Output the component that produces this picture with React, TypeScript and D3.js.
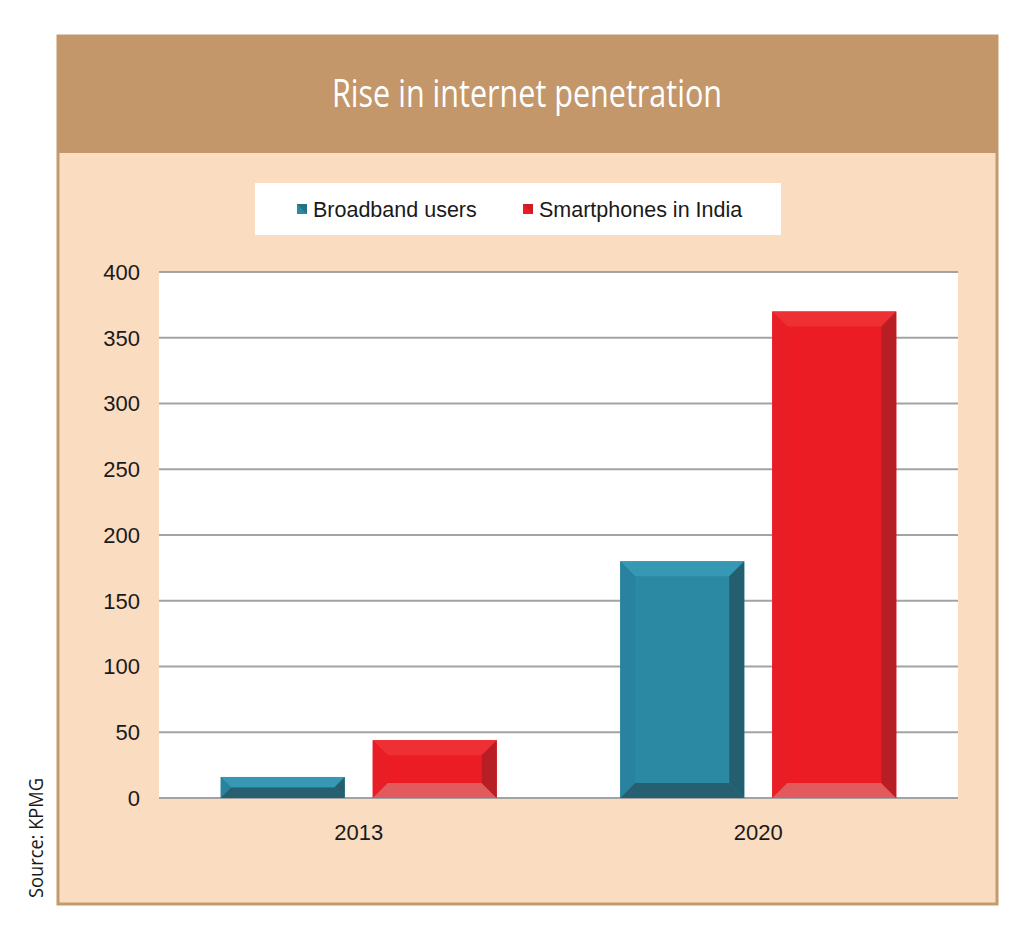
import React from "react";
import * as d3 from "d3";

const categories = ["2013", "2020"];
const seriesNames = ["Broadband users", "Smartphones in India"];
const broadband = [16, 180];
const smartphones = [44, 370];
const yTicks = [0, 50, 100, 150, 200, 250, 300, 350, 400];

const W = 1024;
const H = 932;

const palettes = [
  { main: "#2b89a3", top: "#3798b3", right: "#245f70", bottom: "#265f70", left: "#2882a0" },
  { main: "#ec1c24", top: "#ee3034", right: "#b81f25", bottom: "#e35a5c", left: "#e91d25" },
];

function Bar({ x, y, w, h, pal }: { x: number; y: number; w: number; h: number; pal: any }) {
  const b = Math.min(15, h / 2, w / 2);
  const pts = (arr: number[][]) => arr.map((p) => p.join(",")).join(" ");
  return (
    <g>
      <rect x={x} y={y} width={w} height={h} fill={pal.main} />
      <polygon points={pts([[x, y], [x + w, y], [x + w - b, y + b], [x + b, y + b]])} fill={pal.top} />
      <polygon points={pts([[x, y], [x, y + h], [x + b, y + h - b], [x + b, y + b]])} fill={pal.left} />
      <polygon points={pts([[x, y + h], [x + w, y + h], [x + w - b, y + h - b], [x + b, y + h - b]])} fill={pal.bottom} />
      <polygon points={pts([[x + w, y], [x + w, y + h], [x + w - b, y + h - b], [x + w - b, y + b]])} fill={pal.right} />
    </g>
  );
}

export default function App() {
  const plot = { left: 159, right: 958, top: 272, bottom: 798 };
  const y = d3.scaleLinear().domain([0, 400]).range([plot.bottom, plot.top]);
  const x0 = d3.scaleBand<string>().domain(categories).range([plot.left, plot.right]).padding(0);
  const x1 = d3
    .scaleBand<string>()
    .domain(seriesNames)
    .range([0, x0.bandwidth()])
    .paddingInner(0.184)
    .paddingOuter(0.406);
  const values = [broadband, smartphones];
  const font = "Arial, 'Liberation Sans', sans-serif";

  return (
    <svg width={W} height={H} style={{ position: "absolute", left: 0, top: 0, display: "block" }}>
      <rect x={0} y={0} width={W} height={H} fill="#ffffff" />
      {/* frame */}
      <rect x={58} y={36} width={939} height={868} fill="#fadcc1" stroke="#c49a6c" strokeWidth={3} />
      <rect x={57} y={35} width={941} height={118} fill="#c3976a" />
      <text
        x={527}
        y={107}
        textAnchor="middle"
        fill="#ffffff"
        fontFamily="'Open Sans', sans-serif"
        fontSize={38}
        textLength={390}
        lengthAdjust="spacingAndGlyphs"
      >
        Rise in internet penetration
      </text>

      {/* legend */}
      <rect x={255} y={183} width={526} height={52} fill="#ffffff" />
      {seriesNames.map((s, i) => {
        const lx = i === 0 ? 297 : 523;
        return (
          <g key={s}>
            <rect x={lx} y={204} width={10} height={10} fill={palettes[i].main} />
            <polygon points={`${lx},204 ${lx + 10},204 ${lx + 10},214`} fill={palettes[i].right} opacity={0.6} />
            <text x={lx + 16} y={217} fontFamily={font} fontSize={21.5} fill="#1a1a1a">
              {s}
            </text>
          </g>
        );
      })}

      {/* plot area */}
      <rect x={plot.left} y={plot.top} width={plot.right - plot.left} height={plot.bottom - plot.top} fill="#ffffff" />
      {yTicks.map((t) => (
        <g key={t}>
          <line x1={plot.left} x2={plot.right} y1={y(t)} y2={y(t)} stroke="#a3a3a3" strokeWidth={2} />
          <text
            x={140}
            y={y(t)}
            dy="0.36em"
            textAnchor="end"
            fontFamily={font}
            fontSize={22}
            fill="#1a1a1a"
          >
            {t}
          </text>
        </g>
      ))}

      {categories.map((c, ci) => (
        <g key={c}>
          {seriesNames.map((s, si) => {
            const v = values[si][ci];
            const bx = (x0(c) as number) + (x1(s) as number);
            const by = y(v);
            return <Bar key={s} x={bx} y={by} w={x1.bandwidth()} h={y(0) - by} pal={palettes[si]} />;
          })}
          <text
            x={(x0(c) as number) + x0.bandwidth() / 2}
            y={840}
            textAnchor="middle"
            fontFamily={font}
            fontSize={22}
            fill="#1a1a1a"
          >
            {c}
          </text>
        </g>
      ))}

      {/* source */}
      <text
        transform="translate(43,898) rotate(-90)"
        fontFamily="'Open Sans', sans-serif"
        fontSize={20}
        fill="#1a1a1a"
        textLength={120}
        lengthAdjust="spacingAndGlyphs"
      >
        Source:  KPMG
      </text>
    </svg>
  );
}
